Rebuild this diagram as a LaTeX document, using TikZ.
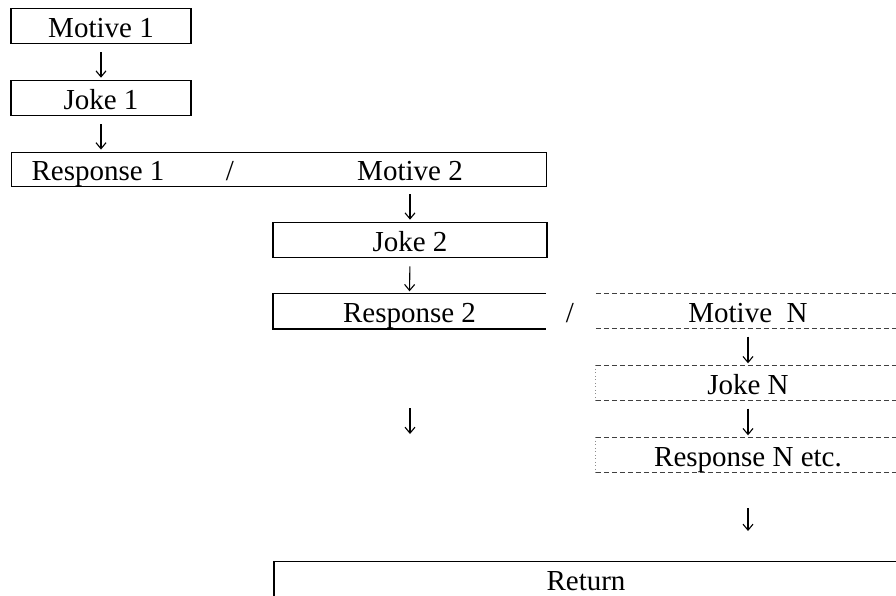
\documentclass[tikz,border=0pt]{standalone}
\usepackage{fontspec}
\setmainfont{Liberation Serif}
\usetikzlibrary{arrows.meta}
\begin{document}
\begin{tikzpicture}[x=1pt,y=-1pt,
  txt/.style={font=\fontsize{29}{34}\selectfont, text height=23pt, text depth=0pt, inner sep=0pt, minimum height=35pt},
  thickbox/.style={txt, draw, line width=1.6pt},
  thinbox/.style={draw, line width=0.9pt, inner sep=0pt},
  dline/.style={dash pattern=on 5pt off 3pt, line width=0.9pt, draw=black!75},
  dotl/.style={dash pattern=on 1pt off 2.5pt, line width=0.9pt, draw=black!45},
  arr/.style={-{Straight Barb[length=6pt,width=10pt]}, line width=1.1pt, shorten <=8pt, shorten >=2pt},
]
\useasboundingbox (0,0) rectangle (896,595);
\clip (0,0) rectangle (896,595);

% left column
\node[thickbox, minimum width=180pt] (m1) at (101,26) {Motive 1};
\node[thickbox, minimum width=180pt] (j1) at (101,98) {Joke 1};
\node[thinbox, minimum width=535pt, minimum height=34pt] (rm) at (278.5,169) {};
\node[txt] (r1) at (98,169) {Response 1};
\node[txt] (s1) at (230,169) {/};
\node[txt] (m2) at (410,169) {Motive 2};

% middle column
\node[thickbox, minimum width=274pt] (j2) at (410,240) {Joke 2};
\node[txt, minimum width=273pt] (r2) at (409.5,311) {Response 2};
\draw[line width=1.6pt] (r2.north east) -- (r2.north west) -- (r2.south west) -- (r2.south east);
\node[txt] (s2) at (570,311) {/};

% right column
\node[txt, minimum width=304pt] (mn) at (748,311) {Motive~~N};
\node[txt, minimum width=304pt] (jn) at (748,383) {Joke N};
\node[txt, minimum width=304pt] (rn) at (748,455) {Response N etc.};
\foreach \n in {mn,jn,rn}{
  \draw[dline] (\n.north west) -- (\n.north east);
  \draw[dline] (\n.south west) -- (\n.south east);
}
\draw[dotl] (jn.north west) -- (jn.south west);
\draw[dotl] (rn.north west) -- (rn.south west);

% return
\node[thickbox, minimum width=624pt] (rt) at (586,579) {Return};

% connectors
\coordinate (a1) at (410,408);
\coordinate (a2) at (410,434);
\coordinate (b1) at (748,508);
\coordinate (b2) at (748,531);
\draw[arr] (m1.south) -- (j1.north);
\draw[arr] (j1.south) -- (j1.south |- rm.north);
\draw[arr] (m2 |- rm.south) -- (j2.north);
\draw[arr] (j2.south) -- (r2.north);
\draw[arr] (mn.south) -- (jn.north);
\draw[arr] (jn.south) -- (rn.north);
\draw[arr, shorten <=0pt, shorten >=0pt] (a1) -- (a2);
\draw[arr, shorten <=0pt, shorten >=0pt] (b1) -- (b2);
\end{tikzpicture}
\end{document}
